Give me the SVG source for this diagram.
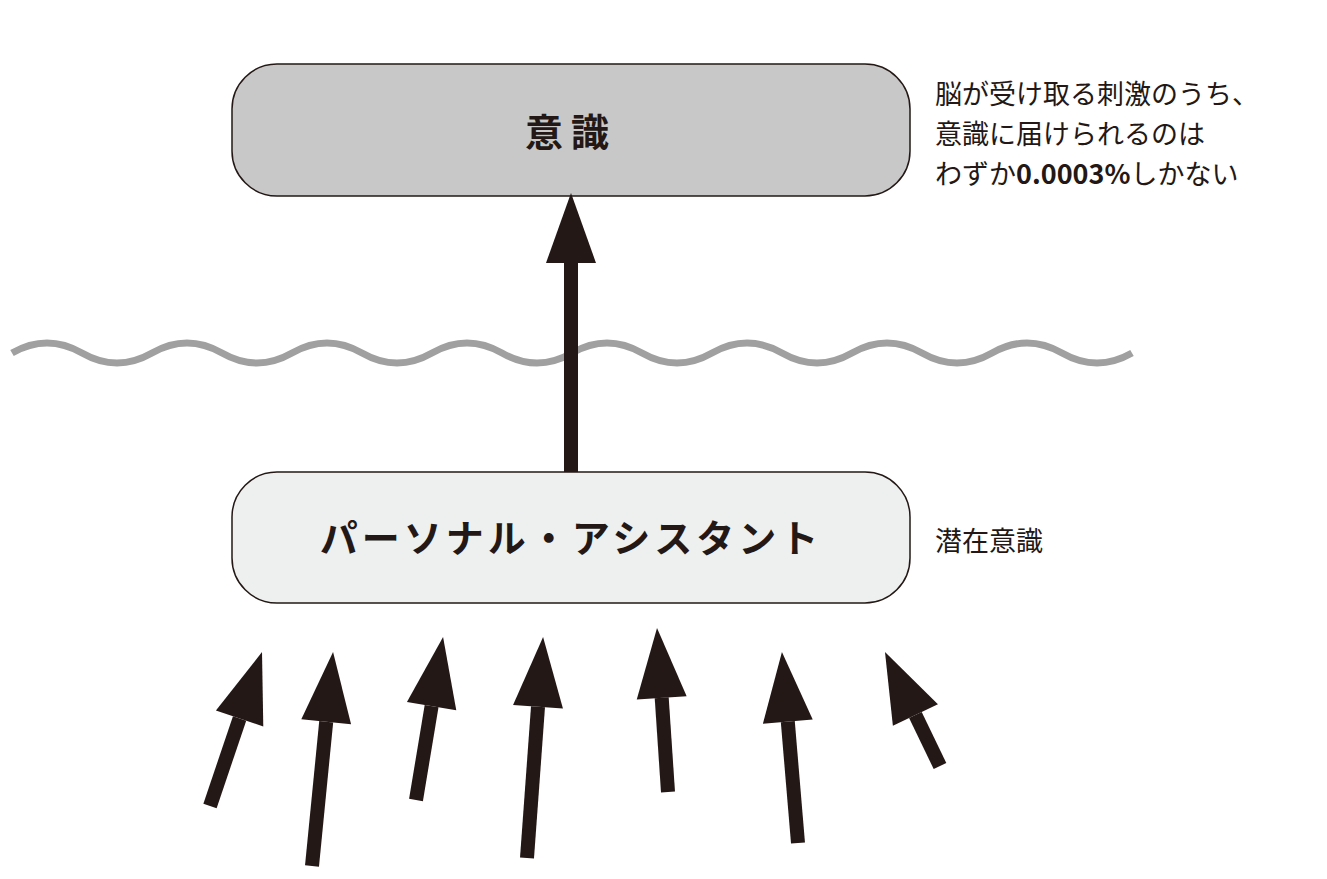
<svg xmlns="http://www.w3.org/2000/svg" width="1327" height="879" viewBox="0 0 1327 879">
<style>
.box{stroke:#231815;stroke-width:1.5}
.lbl{font-family:"Noto Sans CJK JP","Noto Sans",sans-serif;font-weight:bold;fill:#231815;text-anchor:middle}
.side{font-family:"Noto Sans CJK JP","Noto Sans",sans-serif;font-size:27px;fill:#231815}
.arr{stroke:#231815;stroke-width:14;fill:none;marker-end:url(#ah)}
</style>
<defs>
<marker id="ah" markerUnits="userSpaceOnUse" markerWidth="80" markerHeight="60" refX="0" refY="25" viewBox="0 0 80 50" orient="auto" overflow="visible">
<path d="M0,0 L70,25 L0,50 z" fill="#231815"/>
</marker>
</defs>
<path d="M12,353 q35,-20 70,0 t70,0 t70,0 t70,0 t70,0 t70,0 t70,0 t70,0 t70,0 t70,0 t70,0 t70,0 t70,0 t70,0 t70,0 t70,0" fill="none" stroke="#a0a0a0" stroke-width="7"/>
<g id="conscious">
<rect class="box" x="232" y="64" width="678" height="132" rx="45" fill="#c8c8c8"/>
<text class="lbl" x="571" y="146" font-size="38" letter-spacing="8">意識</text>
</g>
<g id="assistant">
<rect class="box" x="232" y="472" width="678" height="131" rx="45" fill="#eef0ef"/>
<text class="lbl" x="571" y="552" font-size="38" letter-spacing="4">パーソナル・アシスタント</text>
</g>
<g id="note">
<text class="side" x="935" y="104">脳が受け取る刺激のうち、</text>
<text class="side" x="935" y="144">意識に届けられるのは</text>
<text class="side" x="935" y="184">わずか<tspan font-weight="bold">0.0003%</tspan>しかない</text>
</g>
<g id="subconscious"><text class="side" x="935" y="551">潜在意識</text></g>
<g id="connectors">
<line class="arr" x1="571" y1="472" x2="571" y2="263"/>
<line class="arr" x1="210" y1="806" x2="239.6" y2="718.4"/>
<line class="arr" x1="312" y1="866" x2="326.2" y2="721.7"/>
<line class="arr" x1="416" y1="800" x2="431.6" y2="706.1"/>
<line class="arr" x1="527" y1="858" x2="538" y2="706.8"/>
<line class="arr" x1="668" y1="792" x2="661.7" y2="697.8"/>
<line class="arr" x1="798" y1="843" x2="787.8" y2="721.7"/>
<line class="arr" x1="940" y1="766" x2="915.4" y2="715"/>
</g>
</svg>
